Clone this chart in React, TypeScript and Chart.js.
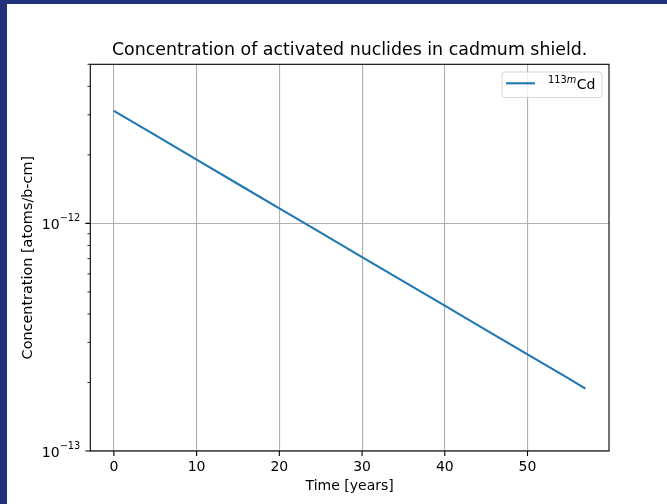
import React, { useEffect, useRef } from 'react';
import { Chart, registerables } from 'chart.js';

Chart.register(...registerables);

// ---- data ----
const years = [0, 5, 10, 15, 20, 25, 30, 35, 40, 45, 50, 55, 57];
const concentration = [
  3.12e-12, 2.44e-12, 1.906e-12, 1.49e-12, 1.165e-12, 9.1e-13, 7.11e-13,
  5.56e-13, 4.35e-13, 3.4e-13, 2.66e-13, 2.08e-13, 1.88e-13,
];
const xTicks = [0, 10, 20, 30, 40, 50];
const yMajorTicks = [1e-13, 1e-12];
const yMajorBase = ['10', '10'];
const yMajorExponents = ['\u221213', '\u221212'];
const yMinorTicks = [
  2e-13, 3e-13, 4e-13, 5e-13, 6e-13, 7e-13, 8e-13, 9e-13,
  2e-12, 3e-12, 4e-12, 5e-12,
];
const titleText = 'Concentration of activated nuclides in cadmum shield.';
const xLabel = 'Time [years]';
const yLabel = 'Concentration [atoms/b-cm]';
const seriesSupDigits = '113';
const seriesSupItalic = 'm';
const seriesName = 'Cd';

const FONT = "'DejaVu Sans', sans-serif";
const LINE_COLOR = '#1f77b4';
const GRID_COLOR = '#b0b0b0';

const isMajor = (v: number) =>
  yMajorTicks.some((m) => Math.abs(v - m) / m < 1e-6);

const framePlugin = {
  id: 'frameTicks',
  afterDraw(chart: any) {
    const { ctx, chartArea } = chart;
    const { left, right, top, bottom } = chartArea;
    const xs = chart.scales.x;
    const ys = chart.scales.y;
    ctx.save();
    ctx.strokeStyle = '#000';
    ctx.lineWidth = 1.1;
    // ticks
    ctx.beginPath();
    xTicks.forEach((v) => {
      const px = xs.getPixelForValue(v);
      ctx.moveTo(px, bottom);
      ctx.lineTo(px, bottom + 4.9);
    });
    yMajorTicks.forEach((v) => {
      const py = ys.getPixelForValue(v);
      ctx.moveTo(left, py);
      ctx.lineTo(left - 4.9, py);
    });
    ctx.stroke();
    ctx.lineWidth = 0.85;
    ctx.beginPath();
    yMinorTicks.forEach((v) => {
      const py = ys.getPixelForValue(v);
      ctx.moveTo(left, py);
      ctx.lineTo(left - 2.8, py);
    });
    ctx.stroke();
    // frame
    ctx.lineWidth = 1.1;
    ctx.strokeRect(left, top, right - left, bottom - top);

    // y major tick labels (10 with raised exponent)
    ctx.fillStyle = '#000';
    ctx.textBaseline = 'alphabetic';
    ctx.textAlign = 'left';
    yMajorTicks.forEach((v, i) => {
      const py = ys.getPixelForValue(v);
      ctx.font = `14px ${FONT}`;
      const wb = ctx.measureText(yMajorBase[i]).width;
      ctx.font = `9.8px ${FONT}`;
      const we = ctx.measureText(yMajorExponents[i]).width;
      const xr = left - 10;
      const xb = xr - we - wb;
      ctx.font = `14px ${FONT}`;
      ctx.fillText(yMajorBase[i], xb, py + 5.5);
      ctx.font = `9.8px ${FONT}`;
      ctx.fillText(yMajorExponents[i], xb + wb, py - 2.2);
    });

    // title centred over the plot area
    ctx.font = `17.4px ${FONT}`;
    ctx.textAlign = 'center';
    ctx.fillText(titleText, (left + right) / 2, top - 9.3);
    ctx.restore();
  },
};

const legendPlugin = {
  id: 'customLegend',
  afterDraw(chart: any) {
    const { ctx, chartArea } = chart;
    const w = 100;
    const h = 25.5;
    const x0 = chartArea.right - 7 - w;
    const y0 = chartArea.top + 7.7;
    const r = 3;
    ctx.save();
    ctx.beginPath();
    ctx.moveTo(x0 + r, y0);
    ctx.lineTo(x0 + w - r, y0);
    ctx.quadraticCurveTo(x0 + w, y0, x0 + w, y0 + r);
    ctx.lineTo(x0 + w, y0 + h - r);
    ctx.quadraticCurveTo(x0 + w, y0 + h, x0 + w - r, y0 + h);
    ctx.lineTo(x0 + r, y0 + h);
    ctx.quadraticCurveTo(x0, y0 + h, x0, y0 + h - r);
    ctx.lineTo(x0, y0 + r);
    ctx.quadraticCurveTo(x0, y0, x0 + r, y0);
    ctx.closePath();
    ctx.fillStyle = 'rgba(255,255,255,0.8)';
    ctx.fill();
    ctx.strokeStyle = 'rgba(204,204,204,0.8)';
    ctx.lineWidth = 1;
    ctx.stroke();
    // handle
    const ly = y0 + 11.3;
    ctx.strokeStyle = LINE_COLOR;
    ctx.lineWidth = 2.1;
    ctx.beginPath();
    ctx.moveTo(x0 + 4, ly);
    ctx.lineTo(x0 + 33, ly);
    ctx.stroke();
    // text
    ctx.fillStyle = '#000';
    ctx.textBaseline = 'alphabetic';
    ctx.textAlign = 'left';
    let tx = x0 + 46;
    ctx.font = `9.8px ${FONT}`;
    ctx.fillText(seriesSupDigits, tx, y0 + 11.3);
    tx += ctx.measureText(seriesSupDigits).width;
    ctx.font = `italic 9.8px ${FONT}`;
    ctx.fillText(seriesSupItalic, tx, y0 + 11.3);
    tx += ctx.measureText(seriesSupItalic).width + 0.5;
    ctx.font = `14px ${FONT}`;
    ctx.fillText(seriesName, tx, y0 + 17.3);
    ctx.restore();
  },
};

export default function App() {
  const ref = useRef<HTMLCanvasElement | null>(null);

  useEffect(() => {
    if (!ref.current) return;
    const chart = new Chart(ref.current, {
      type: 'line',
      data: {
        datasets: [
          {
            label: seriesSupDigits + seriesSupItalic + seriesName,
            data: years.map((t, i) => ({ x: t, y: concentration[i] })),
            borderColor: LINE_COLOR,
            backgroundColor: LINE_COLOR,
            borderWidth: 2.1,
            pointRadius: 0,
            tension: 0,
            fill: false,
          },
        ],
      },
      options: {
        animation: false,
        responsive: false,
        events: [],
        layout: { padding: { left: 0, right: 58, top: 60.3, bottom: 0 } },
        plugins: {
          legend: { display: false },
          tooltip: { enabled: false },
          title: { display: false },
        },
        scales: {
          x: {
            type: 'linear',
            min: -2.85,
            max: 59.85,
            afterBuildTicks: (scale: any) => {
              scale.ticks = xTicks.map((v) => ({ value: v }));
            },
            afterFit: (scale: any) => {
              scale.height = 53;
            },
            grid: { color: GRID_COLOR, lineWidth: 1.1, drawTicks: false },
            border: { display: false },
            ticks: {
              color: '#000',
              font: { family: FONT, size: 14 },
              padding: 8,
              autoSkip: false,
              maxRotation: 0,
              callback: (v: any) => String(v),
            },
            title: {
              display: true,
              text: xLabel,
              color: '#000',
              font: { family: FONT, size: 14, lineHeight: 1.2 },
              padding: { top: 0, bottom: 9.3 },
            },
          },
          y: {
            type: 'logarithmic',
            min: 1e-13,
            max: 5e-12,
            afterBuildTicks: (scale: any) => {
              scale.ticks = [...yMajorTicks, ...yMinorTicks]
                .sort((a, b) => a - b)
                .map((v) => ({ value: v, major: isMajor(v) }));
            },
            afterFit: (scale: any) => {
              scale.width = 83.3;
            },
            grid: {
              color: (ctx: any) =>
                ctx.tick && isMajor(ctx.tick.value) ? GRID_COLOR : 'rgba(0,0,0,0)',
              lineWidth: 1.1,
              drawTicks: false,
            },
            border: { display: false },
            ticks: {
              color: '#000',
              font: { family: FONT, size: 14 },
              padding: 10,
              autoSkip: false,
              callback: () => '',
            },
            title: {
              display: true,
              text: yLabel,
              color: '#000',
              font: { family: FONT, size: 14.4, lineHeight: 1.2 },
              padding: { top: 12.4, bottom: 0 },
            },
          },
        },
      },
      plugins: [framePlugin, legendPlugin],
    } as any);
    return () => chart.destroy();
  }, []);

  return (
    <div
      style={{
        position: 'fixed',
        left: 0,
        top: 0,
        width: 667,
        height: 504,
        background: '#22317b',
        overflow: 'hidden',
      }}
    >
      <div
        style={{
          position: 'absolute',
          left: 7,
          top: 4,
          width: 660,
          height: 500,
          background: '#fff',
        }}
      >
        <canvas ref={ref} width={660} height={500} style={{ display: 'block' }} />
      </div>
    </div>
  );
}
